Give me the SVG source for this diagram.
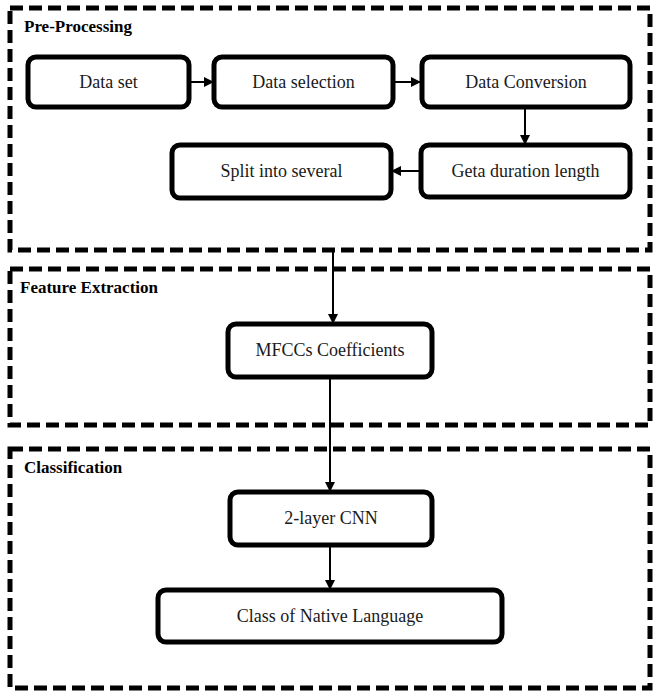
<svg xmlns="http://www.w3.org/2000/svg" width="654" height="692" viewBox="0 0 654 692">
<style>
.frame{fill:none;stroke:#000;stroke-width:5;stroke-dasharray:13 6}
.box{fill:#fff;stroke:#000;stroke-width:5}
.t{font-family:'Liberation Serif','Times New Roman',serif;font-size:18px;fill:#1a1a1a;text-anchor:middle;dominant-baseline:central}
.lbl{font-family:'Liberation Serif','Times New Roman',serif;font-size:17px;font-weight:bold;fill:#000}
.c{stroke:#000;stroke-width:2;fill:none}
</style>
<defs>
<marker id="ah" markerWidth="10" markerHeight="10" refX="9" refY="5" orient="auto" markerUnits="userSpaceOnUse">
<path d="M0,0 L10,5 L0,10 Z" fill="#000"/>
</marker>
</defs>
<g id="preprocessing">
<rect class="frame" x="10" y="8" width="640" height="242"/>
<text class="lbl" x="24" y="32">Pre-Processing</text>
</g>
<g id="feature-extraction">
<rect class="frame" x="10" y="269" width="640" height="156"/>
<text class="lbl" x="20" y="293">Feature Extraction</text>
</g>
<g id="classification">
<rect class="frame" x="10" y="449" width="640" height="239"/>
<text class="lbl" x="24" y="473">Classification</text>
</g>
<g id="data-set"><rect class="box" x="28" y="57" width="161" height="50" rx="8"/><text class="t" x="108.5" y="82">Data set</text></g>
<g id="data-selection"><rect class="box" x="214" y="57" width="179" height="50" rx="8"/><text class="t" x="303.5" y="82">Data selection</text></g>
<g id="data-conversion"><rect class="box" x="422" y="57" width="208" height="50" rx="8"/><text class="t" x="526" y="82">Data Conversion</text></g>
<g id="geta-duration"><rect class="box" x="421" y="145" width="209" height="52" rx="8"/><text class="t" x="525.5" y="171">Geta duration length</text></g>
<g id="split"><rect class="box" x="172" y="145" width="219" height="53" rx="8"/><text class="t" x="281.5" y="171">Split into several</text></g>
<g id="mfcc"><rect class="box" x="228" y="324" width="204" height="53" rx="8"/><text class="t" x="330" y="350">MFCCs Coefficients</text></g>
<g id="cnn"><rect class="box" x="230" y="492" width="202" height="53" rx="8"/><text class="t" x="331" y="518">2-layer CNN</text></g>
<g id="class-native"><rect class="box" x="158" y="590" width="344" height="52" rx="8"/><text class="t" x="330" y="616">Class of Native Language</text></g>
<g id="connectors">
<line class="c" x1="189" y1="82" x2="213" y2="82" marker-end="url(#ah)"/>
<line class="c" x1="393" y1="82" x2="420" y2="82" marker-end="url(#ah)"/>
<line class="c" x1="525" y1="107" x2="525" y2="144" marker-end="url(#ah)"/>
<line class="c" x1="421" y1="171" x2="392" y2="171" marker-end="url(#ah)"/>
<line class="c" x1="333" y1="250" x2="333" y2="323" marker-end="url(#ah)"/>
<line class="c" x1="330" y1="377" x2="330" y2="491" marker-end="url(#ah)"/>
<line class="c" x1="330" y1="545" x2="330" y2="589" marker-end="url(#ah)"/>
</g>
</svg>
